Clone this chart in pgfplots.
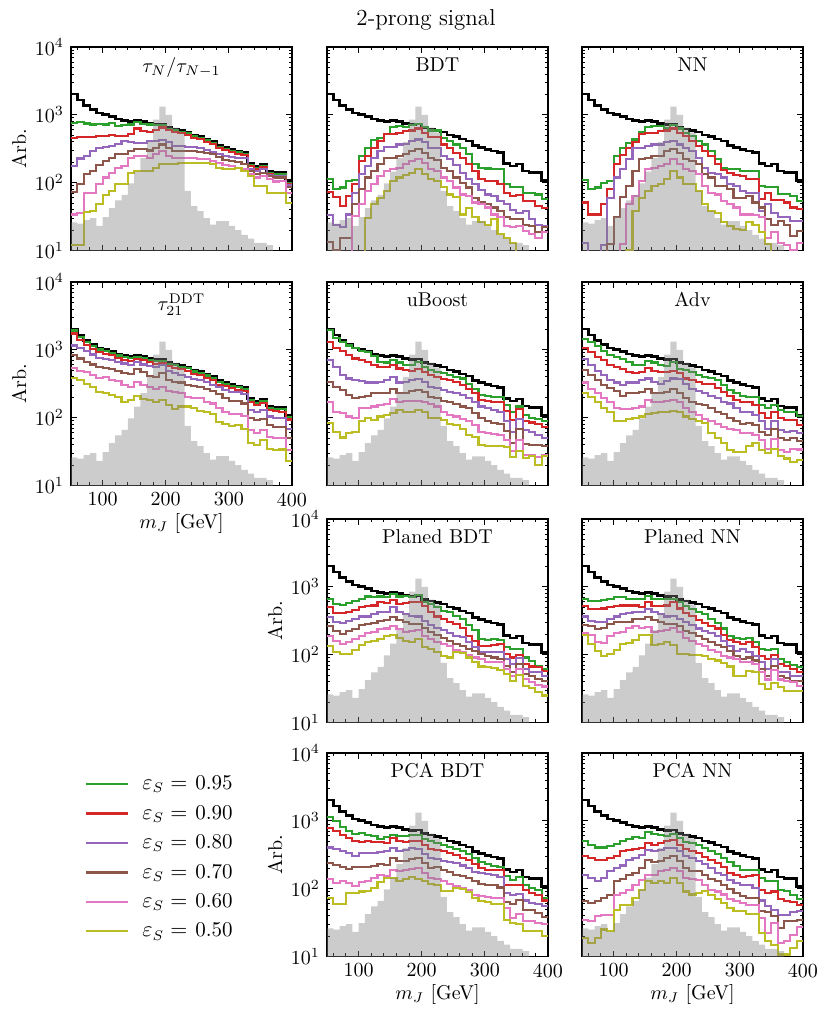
\documentclass[border=0pt]{standalone}
\usepackage{pgfplots}
\usepackage{pgfplotstable}
\pgfplotsset{compat=1.18}
\definecolor{cg}{HTML}{2CA02C}
\definecolor{cr}{HTML}{D62728}
\definecolor{cp}{HTML}{9467BD}
\definecolor{cb}{HTML}{8C564B}
\definecolor{ck}{HTML}{E377C2}
\definecolor{co}{HTML}{BCBD22}

\pgfplotstableread{
x bk sig
50 2030 26
60 1650 25
70 1380 28
80 1190 30
90 1060 23
100 1010 31
110 950 42
120 870 55
130 820 66
140 790 98
150 830 145
160 800 230
170 750 400
180 715 850
190 730 1320
200 650 1000
210 620 650
220 590 550
230 560 76
240 505 45
250 480 38
260 440 30
270 410 24
280 350 27
290 330 27
300 310 23
310 295 20
320 278 17
330 192 15
340 175 13
350 188 13
360 148 12
370 142 1
380 140 1
390 108 1
400 108 1
}\bgtab

\pgfplotstableread{
x g r p b k o
50 760 460 176 72 34 12
60 790 475 227 95 36 12
70 745 470 245 133 70 37
80 720 470 290 150 70 38
90 740 485 320 180 95 48
100 720 485 335 208 119 66
110 760 500 350 233 141 75
120 690 485 370 261 166 95
130 705 490 410 267 176 95
140 720 515 400 292 228 141
150 780 630 390 318 245 149
160 740 575 390 318 245 149
170 720 560 410 298 228 149
180 700 590 410 327 261 166
190 715 650 430 366 292 186
200 620 590 400 327 245 190
210 590 560 350 292 228 190
220 560 535 350 292 233 197
230 535 505 335 292 228 197
240 480 455 335 292 228 197
250 455 435 320 285 225 197
260 418 400 305 270 220 197
270 390 372 285 261 208 186
280 333 320 265 242 197 166
290 313 300 245 216 182 157
300 294 282 240 208 176 157
310 280 268 233 200 166 166
320 264 252 228 190 157 149
330 182 175 160 149 133 126
340 166 158 148 133 119 90
350 178 170 158 141 126 90
360 140 133 128 126 113 71
370 134 127 124 119 104 71
380 132 125 124 119 106 71
390 100 95 92 87 71 50
400 100 95 92 87 71 50
}\tabA

\pgfplotstableread{
x g r p b k o
50 112 73 33 13.2 8 5
60 81 61 24 10 8 5
70 85 45 22 15.5 8 5
80 106 64 34 15.5 8 5
90 108 95 71 48 32 5
100 247 208 133 80 48 5
110 327 247 176 119 75 30
120 420 320 228 149 95 48
130 459 410 292 190 126 60
140 525 514 331 228 149 75
150 660 514 331 228 157 106
160 675 545 366 247 166 119
170 655 575 375 261 186 130
180 705 588 410 292 208 141
190 740 630 433 310 220 157
200 655 545 400 276 197 133
210 588 470 327 228 157 113
220 588 470 320 213 149 106
230 459 366 247 166 119 87
240 410 320 220 149 106 67
250 366 276 182 119 85 62
260 320 233 141 100 67 34
270 261 190 112 85 64 42
280 190 149 95 60 51 31
290 166 112 77 51 48 26
300 162 106 67 49 43 24
310 157 106 64 43 34 29
320 157 95 54 38 31 17.4
330 95 71 48 31 23 15.5
340 87 64 40 29 22 13
350 87 65 36 29 23 5
360 71 54 38 24 19.5 5
370 71 54 29 23 17.4 5
380 67 45 24 18.5 15.5 5
390 57 42 23 22.5 18.5 5
400 57 42 23 22.5 18.5 5
}\tabB

\pgfplotstableread{
x g r p b k o
50 109 51 13 5 5 5
60 80 34 7 5 5 5
70 85 34 7 5 5 5
80 100 48 12 5 5 5
90 106 80 60 12.4 5 5
100 247 186 119 31 5 5
110 327 255 157 62 12.4 5
120 385 327 220 89 48 10
130 433 400 327 149 64 38
140 560 525 327 220 106 60
150 660 545 345 228 157 75
160 675 545 366 245 166 89
170 675 575 366 250 176 95
180 644 588 400 292 186 113
190 705 630 410 309 220 149
200 630 545 366 275 186 119
210 545 490 327 220 157 95
220 490 410 292 208 149 95
230 410 345 233 186 133 75
240 366 292 166 133 90 48
250 292 247 141 119 71 38
260 220 186 133 89 67 36
270 166 152 119 89 54 26
280 157 141 95 80 48 23
290 157 130 90 60 43 21
300 149 126 75 59 34 20
310 149 112 71 64 34 26
320 149 112 71 51 33 24
330 90 57 38 43 31 18.5
340 87 71 48 29 15.5 12.4
350 87 55 36 24 18.5 5
360 69 55 31 27 13 5
370 69 51 31 24 12 5
380 64 43 27 16.5 10 5
390 54 41 27 19.5 13 5
400 54 41 27 19.5 13 5
}\tabC

\pgfplotstableread{
x g r p b k o
50 1930 1740 1160 835 545 388
60 1570 1410 1050 745 490 355
70 1310 1190 960 665 465 316
80 1130 1030 855 607 425 282
90 1010 920 763 560 388 238
100 960 880 728 545 398 233
110 900 830 705 520 358 215
120 825 760 665 490 345 203
130 780 715 630 450 300 171
140 750 690 595 435 282 182
150 790 725 665 520 338 210
160 760 700 607 478 307 188
170 712 655 580 415 282 182
180 680 625 560 400 263 168
190 695 640 595 450 282 182
200 618 570 490 358 247 155
210 590 545 450 338 236 135
220 560 518 425 330 228 146
230 532 492 400 307 203 146
240 480 444 370 293 197 138
250 456 422 358 282 193 127
260 418 386 338 267 171 123
270 390 360 307 247 162 112
280 332 307 282 220 141 87
290 314 290 255 193 123 80
300 295 272 236 176 112 76
310 280 259 236 176 112 78
320 264 244 220 162 107 69
330 182 168 130 98 66 42
340 166 153 123 93 59 40
350 178 165 130 96 66 47
360 140 130 104 78 52 35
370 135 124 98 73 50 33
380 133 122 98 73 50 34
390 102 94 69 50 33 23
400 102 94 69 50 33 23
}\tabD

\pgfplotstableread{
x g r p b k o
50 1940 1300 705 338 171 84
60 1490 1050 560 282 123 62
70 1310 960 425 255 116 51
80 1160 835 378 215 104 59
90 1050 745 358 193 98 62
100 960 705 345 203 138 88
110 920 665 330 210 141 98
120 815 607 330 228 146 93
130 665 560 338 228 155 104
140 650 560 358 228 157 110
150 705 595 400 263 188 116
160 650 530 330 228 171 130
170 607 500 338 228 176 123
180 595 490 358 247 176 123
190 665 520 370 255 176 130
200 560 465 338 236 168 121
210 500 425 282 203 157 100
220 478 400 272 193 146 98
230 450 370 255 176 123 93
240 425 358 238 168 110 80
250 400 338 228 157 104 78
260 378 307 215 146 96 69
270 316 267 193 138 88 55
280 267 228 171 116 78 52
290 215 182 146 98 62 40
300 210 176 138 90 59 38
310 203 171 130 83 57 38
320 203 168 123 80 56 38
330 152 125 88 64 47 37
340 123 92 62 42 32 26
350 146 135 96 69 47 32
360 110 89 66 41 28 25.5
370 98 85 62 40 28 27
380 96 80 55 40 26 20
390 88 73 50 38 28 27
400 88 73 50 38 28 27
}\tabE

\pgfplotstableread{
x g r p b k o
50 1440 1080 728 500 330 228
60 1300 920 595 425 267 203
70 1130 790 490 358 228 171
80 960 705 425 300 197 138
90 835 607 358 272 168 123
100 790 560 330 247 138 88
110 728 520 307 210 135 90
120 665 478 330 228 135 96
130 607 450 330 228 138 98
140 595 478 358 238 146 104
150 680 545 378 263 182 112
160 650 490 338 228 168 116
170 595 465 316 228 171 121
180 580 478 345 238 176 121
190 665 490 378 263 182 126
200 520 450 370 228 171 121
210 500 378 316 193 138 104
220 478 358 267 168 123 96
230 425 338 247 157 110 88
240 400 316 228 152 96 84
250 388 316 210 138 88 59
260 358 272 193 123 80 50
270 300 238 171 112 73 42
280 255 210 162 98 69 33
290 228 182 138 88 66 31
300 210 171 123 80 59 31
310 203 171 123 83 59 38
320 203 155 110 78 56 42
330 155 116 90 62 47 33
340 138 98 69 55 35 30.5
350 155 123 88 69 48 35
360 130 98 66 50 33 27
370 123 93 62 47 31 25
380 120 93 64 50 35 22
390 107 78 59 45 34 24
400 107 78 59 45 34 24
}\tabF

\pgfplotstableread{
x g r p b k o
50 672 500 355 264 190 136
60 555 410 300 225 160 108
70 540 410 292 200 143 103
80 575 430 316 225 152 103
90 620 459 340 238 170 119
100 672 500 366 270 186 140
110 721 514 366 283 208 153
120 700 530 395 292 218 160
130 721 590 430 316 238 170
140 700 575 420 327 243 186
150 780 644 500 355 264 194
160 721 555 430 327 238 174
170 735 575 395 300 218 160
180 700 590 375 283 225 153
190 750 600 366 283 233 170
200 600 514 316 244 186 128
210 555 430 270 218 170 121
220 500 366 250 194 155 108
230 445 340 233 178 143 95
240 430 300 208 160 133 91
250 373 283 190 143 119 111
260 340 250 180 136 111 106
270 270 190 152 121 99 91
280 228 160 128 114 91 77
290 172 133 111 103 86 67
300 166 136 108 97 79 65
310 170 140 111 91 79 63
320 166 145 111 86 77 60
330 128 103 86 68 61 52
340 121 91 73 56 49 41
350 121 99 88 73 61 50
360 91 73 62 52 44 35
370 81 67 56 48 39 32
380 67 65 55 44 36 28.5
390 62 58 48 41 34 25
400 62 58 48 41 34 25
}\tabG

\pgfplotstableread{
x g r p b k o
50 672 514 366 270 208 194
60 620 470 316 264 194 145
70 620 470 300 236 155 114
80 644 480 306 250 149 97
90 660 500 340 283 190 103
100 700 514 366 306 208 119
110 700 530 395 300 218 145
120 672 530 410 306 250 149
130 672 530 420 335 264 166
140 672 500 430 340 250 194
150 735 600 470 355 258 198
160 672 514 420 327 218 140
170 672 514 395 300 225 145
180 672 530 366 283 233 152
190 672 590 373 283 250 140
200 590 480 340 261 218 103
210 514 410 300 225 176 103
220 470 373 270 208 160 100
230 420 327 243 190 145 100
240 395 292 225 170 136 96
250 340 267 208 152 119 87
260 292 243 190 139 108 82
270 243 194 160 128 97 75
280 186 166 136 114 91 67
290 176 152 115 95 86 49
300 170 145 121 86 79 49
310 176 152 111 91 79 58
320 155 128 97 82 73 55
330 121 97 77 61 56 37
340 119 86 61 49 43 31
350 121 99 86 68 60 38
360 86 73 56 48 43 33
370 79 69 55 45 41 29
380 70 61 49 41 39 29
390 65 55 49 41 35 29
400 65 55 49 41 35 29
}\tabH

\pgfplotstableread{
x g r p b k o
50 1130 790 404 236 141 74
60 985 700 388 225 121 60
70 820 620 360 208 128 60
80 700 555 335 197 121 86
90 640 505 300 208 108 86
100 660 490 335 208 125 91
110 620 505 335 208 131 93
120 590 490 335 215 145 103
130 545 490 345 228 160 125
140 570 470 360 225 152 145
150 620 555 400 282 190 145
160 590 505 360 255 180 130
170 607 490 373 255 190 141
180 620 505 400 270 197 148
190 620 505 388 282 203 141
200 545 445 320 236 170 130
210 500 390 282 203 145 116
220 470 373 275 208 141 112
230 445 360 255 190 131 93
240 410 335 250 176 118 93
250 380 316 236 160 108 103
260 360 282 220 152 103 100
270 320 265 200 145 97 89
280 280 228 176 128 80 74
290 250 202 168 118 77 65
300 228 190 164 114 75 63
310 215 190 160 112 73 59
320 208 190 150 104 73 59
330 153 115 86 64 52 35
340 136 112 81 60 37 31
350 148 115 83 69 42 30
360 115 97 67 48 33 23.5
370 103 87 62 48 33 23.5
380 97 80 59 44 31 23.5
390 74 67 55 38 30 20
400 74 67 55 38 30 20
}\tabI

\pgfplotstableread{
x g r p b k o
50 505 300 160 65 35 19
60 435 280 145 61 33 16
70 404 265 130 65 39 19
80 404 265 145 73 41 25
90 420 282 180 81 41 24
100 455 300 202 128 80 49
110 505 360 220 141 87 57
120 545 373 265 160 97 57
130 570 388 282 170 112 74
140 555 395 316 202 136 97
150 680 470 373 265 160 130
160 640 445 360 250 160 121
170 620 470 373 255 180 130
180 607 500 395 282 190 121
190 640 530 395 300 202 145
200 555 445 360 255 180 121
210 490 388 300 202 145 91
220 470 360 280 184 141 82
230 435 335 255 180 136 86
240 395 290 228 160 115 93
250 360 265 202 141 97 80
260 320 236 171 128 91 70
270 280 210 157 114 82 62
280 250 171 136 100 71 52
290 215 160 121 86 65 47
300 190 148 112 77 61 47
310 190 152 112 73 58 42
320 190 157 103 73 57 42
330 145 97 67 47 37 22
340 128 87 55 45 22 17
350 128 91 49 39 31 15
360 97 71 41 26 16 10.7
370 93 65 41 33 17 10.7
380 80 63 46 33 21 13.4
390 70 58 47 35 27 17
400 70 58 47 35 27 17
}\tabJ

\newcommand{\drawpanel}[1]{%
  \addplot[const plot, black, line width=1.3pt, forget plot] table[x=x,y=bk]{\bgtab};
  \addplot[const plot, cg, line width=1.05pt, forget plot] table[x=x,y=g]{#1};
  \addplot[const plot, cr, line width=1.05pt, forget plot] table[x=x,y=r]{#1};
  \addplot[const plot, cp, line width=1.05pt, forget plot] table[x=x,y=p]{#1};
  \addplot[const plot, cb, line width=1.05pt, forget plot] table[x=x,y=b]{#1};
  \addplot[const plot, ck, line width=1.05pt, forget plot] table[x=x,y=k]{#1};
  \addplot[const plot, co, line width=1.05pt, forget plot] table[x=x,y=o]{#1};
  \addplot[const plot, fill=black!50, fill opacity=0.4, draw=none, forget plot] table[x=x,y=sig]{\bgtab} \closedcycle;
}

\newcommand{\beginpanel}[2]{%
\begin{axis}[scale only axis, width=110.5pt, height=101.75pt, anchor=north west,
    ymode=log, xmin=50, xmax=400, ymin=10, ymax=10000,
    xtick={100,200,300,400},
    minor xtick={60,80,120,140,160,180,220,240,260,280,320,340,360,380},
    ytick={10,100,1000,10000},
    minor ytick={20,30,40,50,60,70,80,90,200,300,400,500,600,700,800,900,2000,3000,4000,5000,6000,7000,8000,9000},
    tick align=inside, major tick length=3pt, minor tick length=1.6pt,
    tick style={black, line width=0.45pt},
    axis line style={line width=0.65pt},
    ylabel style={at={(axis description cs:-0.235,0.5)}, anchor=center},
    xlabel style={at={(axis description cs:0.5,-0.187)}, anchor=center},
    at={#1}, #2]}

\begin{document}
\begin{tikzpicture}
\beginpanel{(35.5pt,-23.5pt)}{xticklabels={}, yticklabels={$10^{1}$,$10^{2}$,$10^{3}$,$10^{4}$}, ylabel={Arb.}}
\drawpanel{\tabA}
\node[anchor=base] at (rel axis cs:0.5,0.875) {$\tau_N/\tau_{N-1}$};
\end{axis}
\beginpanel{(163.5pt,-23.5pt)}{xticklabels={}, yticklabels={}}
\drawpanel{\tabB}
\node[anchor=base] at (rel axis cs:0.5,0.88) {BDT};
\end{axis}
\beginpanel{(291pt,-23.5pt)}{xticklabels={}, yticklabels={}}
\drawpanel{\tabC}
\node[anchor=base] at (rel axis cs:0.5,0.88) {NN};
\end{axis}
\beginpanel{(35.5pt,-141pt)}{xticklabels={100,200,300,400}, xlabel={$m_J$ [GeV]}, yticklabels={$10^{1}$,$10^{2}$,$10^{3}$,$10^{4}$}, ylabel={Arb.}}
\drawpanel{\tabD}
\node[anchor=base] at (rel axis cs:0.5,0.86) {$\tau_{21}^{\mathrm{DDT}}$};
\end{axis}
\beginpanel{(163.5pt,-141pt)}{xticklabels={}, yticklabels={}}
\drawpanel{\tabE}
\node[anchor=base] at (rel axis cs:0.5,0.88) {uBoost};
\end{axis}
\beginpanel{(291pt,-141pt)}{xticklabels={}, yticklabels={}}
\drawpanel{\tabF}
\node[anchor=base] at (rel axis cs:0.5,0.88) {Adv};
\end{axis}
\beginpanel{(163.5pt,-259.5pt)}{xticklabels={}, yticklabels={$10^{1}$,$10^{2}$,$10^{3}$,$10^{4}$}, ylabel={Arb.}}
\drawpanel{\tabG}
\node[anchor=base] at (rel axis cs:0.5,0.88) {Planed BDT};
\end{axis}
\beginpanel{(291pt,-259.5pt)}{xticklabels={}, yticklabels={}}
\drawpanel{\tabH}
\node[anchor=base] at (rel axis cs:0.5,0.88) {Planed NN};
\end{axis}
\beginpanel{(163.5pt,-376.5pt)}{xticklabels={100,200,300,400}, xlabel={$m_J$ [GeV]}, yticklabels={$10^{1}$,$10^{2}$,$10^{3}$,$10^{4}$}, ylabel={Arb.}, legend cell align=left, legend image code/.code={\draw[#1] (0pt,0pt) -- (21pt,0pt);}, legend style={at={(axis description cs:-1.123,0.93)}, anchor=north west, draw=none, fill=none, row sep=2.2pt, column sep=4.5pt, font=\fontsize{10.5}{12}\selectfont}}
\drawpanel{\tabI}
\node[anchor=base] at (rel axis cs:0.5,0.88) {PCA BDT};
\addlegendimage{cg, line width=1.1pt, sharp plot}
\addlegendentry{$\varepsilon_S=$\hspace{4pt}0.95}
\addlegendimage{cr, line width=1.1pt, sharp plot}
\addlegendentry{$\varepsilon_S=$\hspace{4pt}0.90}
\addlegendimage{cp, line width=1.1pt, sharp plot}
\addlegendentry{$\varepsilon_S=$\hspace{4pt}0.80}
\addlegendimage{cb, line width=1.1pt, sharp plot}
\addlegendentry{$\varepsilon_S=$\hspace{4pt}0.70}
\addlegendimage{ck, line width=1.1pt, sharp plot}
\addlegendentry{$\varepsilon_S=$\hspace{4pt}0.60}
\addlegendimage{co, line width=1.1pt, sharp plot}
\addlegendentry{$\varepsilon_S=$\hspace{4pt}0.50}
\end{axis}
\beginpanel{(291pt,-376.5pt)}{xticklabels={100,200,300,400}, xlabel={$m_J$ [GeV]}, yticklabels={}}
\drawpanel{\tabJ}
\node[anchor=base] at (rel axis cs:0.5,0.88) {PCA NN};
\end{axis}
\node[font=\fontsize{11.5}{14}\selectfont] at (213pt,-10pt) {2-prong signal};
\pgfresetboundingbox
\path[use as bounding box] (0pt,0pt) rectangle (415pt,-509pt);
\end{tikzpicture}
\end{document}
